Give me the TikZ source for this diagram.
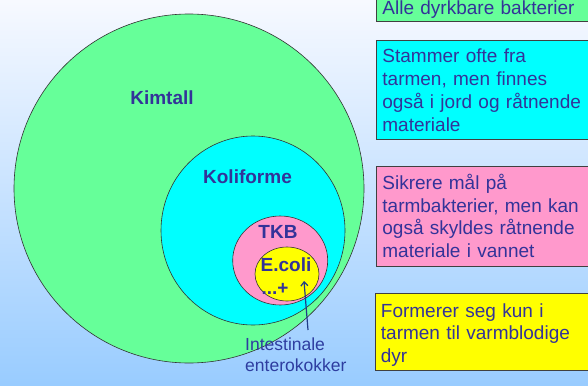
\documentclass[tikz,border=0pt]{standalone}
\usepackage{fontspec}
\setmainfont{Liberation Sans}
\usetikzlibrary{shapes.geometric,arrows.meta}
\definecolor{bgtop}{HTML}{F7F9FF}
\definecolor{bgbot}{HTML}{99CCFF}
\definecolor{kgreen}{HTML}{66FF99}
\definecolor{kcyan}{HTML}{00FFFF}
\definecolor{kpink}{HTML}{FF99CC}
\definecolor{kyellow}{HTML}{FFFF00}
\definecolor{labcol}{HTML}{333399}
\definecolor{arrcol}{HTML}{1F3C88}
\definecolor{intcol}{HTML}{2E3DA0}
\tikzset{
  setcirc/.style={ellipse, draw=black!80, line width=0.6pt, inner sep=0pt},
  setlab/.style={anchor=base, text=labcol, font=\bfseries\fontsize{19}{22}\selectfont, inner sep=0pt},
  infobox/.style={anchor=north west, draw=black!75, line width=0.8pt, text=labcol,
    font=\fontsize{19}{22.7}\selectfont, align=left, text width=212pt,
    inner xsep=6pt, inner ysep=0pt}
}
\begin{document}
\begin{tikzpicture}[x=1pt,y=-1pt]
\clip (0,0) rectangle (588,385);
\shade[top color=bgtop, bottom color=bgbot] (0,0) rectangle (588,385);
% set circles
\node[setcirc, fill=kgreen, minimum width=350pt, minimum height=349pt] (kim) at (189,188.5) {};
\node[setcirc, fill=kcyan, minimum width=184pt, minimum height=189pt] (koli) at (253,230.5) {};
\node[setcirc, fill=kpink, minimum width=95pt, minimum height=89pt] (tkb) at (280.2,260.5) {};
\node[setcirc, fill=kyellow, minimum width=64pt, minimum height=54pt] (ecoli) at (287,274) {};
% labels
\node[setlab] (kimlab) at (162,104.8) {Kimtall};
\node[setlab] (kolilab) at (247.5,183.8) {Koliforme};
\node[setlab] (tkblab) at (278,238.8) {TKB};
\node[setlab] (ecolilab) at (286,271.8) {E.coli};
\node[setlab] (pluslab) at (275,294) {...+};
% arrow and label
\coordinate (atail) at (308,330);
\coordinate (ahead) at (304,281);
\draw[arrcol, line width=1.2pt, -{Straight Barb[length=4pt,width=7pt]}] (atail) -- (ahead);
\node[anchor=north west, inner sep=0pt, text=intcol, align=left,
  font=\fontsize{17.5}{21}\selectfont] (intest) at (245,337.5) {Intestinale\\enterokokker};
% info boxes
\node[infobox, fill=kgreen, text height=18.8pt, text depth=7.5pt] (b1) at (376,-5) {Alle dyrkbare bakterier};
\node[infobox, fill=kcyan, text height=22.8pt, text depth=76.5pt] (b2) at (376,39.7) {Stammer ofte fra\\tarmen, men finnes\\også i jord og råtnende\\materiale};
\node[infobox, fill=kpink, text height=23.1pt, text depth=76.6pt] (b3) at (376,166) {Sikrere mål på\\tarmbakterier, men kan\\også skyldes råtnende\\materiale i vannet};
\node[infobox, fill=kyellow, text height=23.5pt, text depth=53.2pt] (b4) at (374.5,293.3) {Formerer seg kun i\\tarmen til varmblodige\\dyr};
\end{tikzpicture}
\end{document}
